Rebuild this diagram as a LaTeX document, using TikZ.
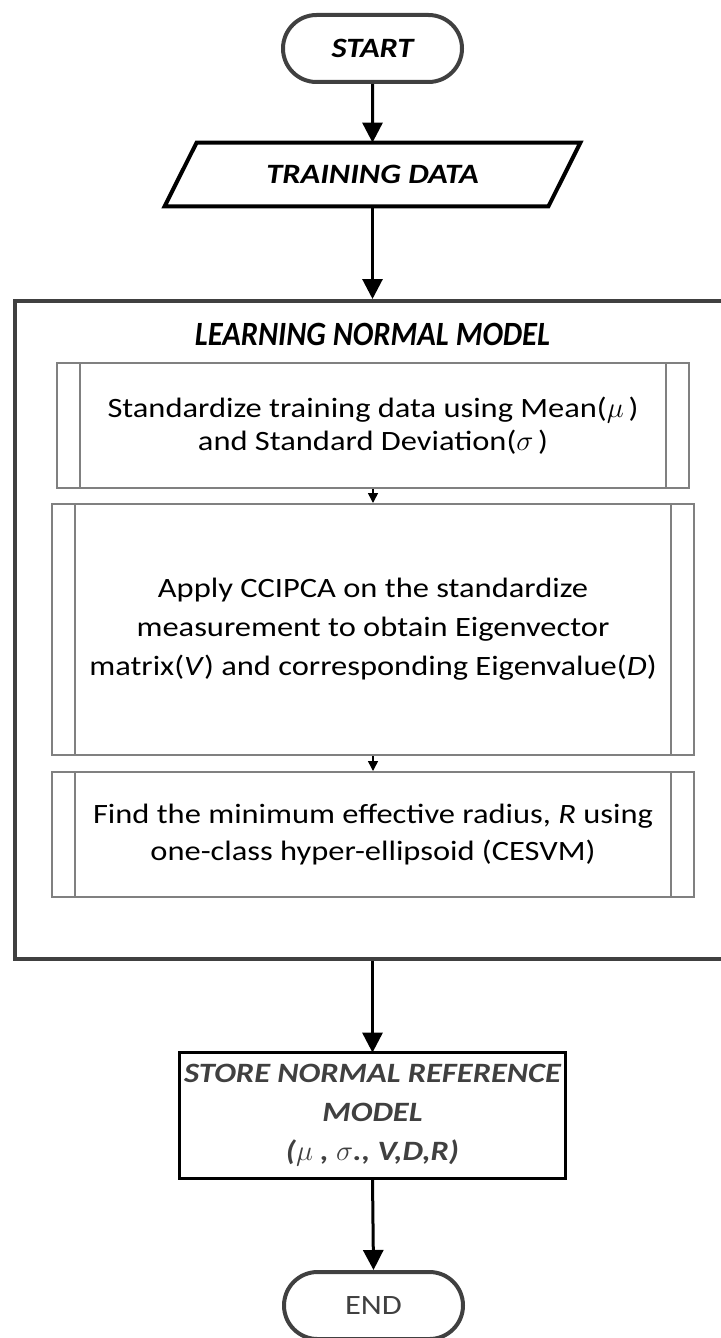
\documentclass[tikz,border=0pt]{standalone}
\usepackage{fontspec}
\setmainfont{Carlito}[FakeStretch=1.16]
\newfontfamily\titlefont{Carlito}[FakeStretch=0.9]
\usetikzlibrary{shapes.misc,arrows.meta}

\definecolor{darkline}{HTML}{404040}
\definecolor{boxline}{HTML}{808080}

\tikzset{
    terminal/.style={rounded rectangle, draw=darkline, line width=2pt, minimum width=89.5pt, minimum height=33.5pt, inner sep=0pt},
    headtext/.style={font=\fontsize{14}{19.5}\selectfont\bfseries\itshape, align=center},
    process/.style={draw=boxline, line width=1pt, inner sep=0pt, align=center},
    flow/.style={line width=1.5pt, -{Triangle[length=10pt,width=10pt]}},
    subflow/.style={line width=0.75pt, -{Triangle[length=5pt,width=5pt]}},
}

\begin{document}
\begin{tikzpicture}[x=0.5pt, y=-0.5pt]
    \useasboundingbox (0,0) rectangle (721,1338);

    % Start and input data
    \node[terminal, headtext] (start) at (372.5,48.5) {START};
    \node[headtext, minimum width=191.5pt, minimum height=31.5pt, inner sep=0pt] (train) at (372.5,174.5) {TRAINING DATA};
    \draw[line width=2pt] ([xshift=8pt]train.north west) -- ([xshift=8pt]train.north east)
        -- ([xshift=-8pt]train.south east) -- ([xshift=-8pt]train.south west) -- cycle;

    % Learning block
    \node[draw=darkline, line width=2pt, minimum width=357.5pt, minimum height=329pt, inner sep=0pt] (learn) at (372.5,630) {};
    \node[font=\titlefont\fontsize{17}{20}\selectfont\bfseries\itshape] (learntitle) at (372.5,334) {LEARNING NORMAL MODEL};

    \node[process, minimum width=316pt, minimum height=62.5pt, font=\fontsize{14}{16.5}\selectfont] (std) at (373,425.5)
        {Standardize training data using Mean($\mu$\,)\\and Standard Deviation($\sigma$\,)};
    \node[process, minimum width=321pt, minimum height=125.5pt, font=\fontsize{14}{19.5}\selectfont] (pca) at (373,629.5)
        {Apply CCIPCA on the standardize\\measurement to obtain Eigenvector\\matrix(\textit{V}) and corresponding Eigenvalue(\textit{D})};
    \node[process, minimum width=321pt, minimum height=62.5pt, font=\fontsize{14}{18.5}\selectfont] (rad) at (373,834.5)
        {Find the minimum effective radius, \textit{R} using\\one-class hyper-ellipsoid (CESVM)};

    % Inner bars of the process boxes
    \foreach \n in {std,pca,rad} {
        \draw[boxline, line width=1pt] ([xshift=12pt]\n.north west) -- ([xshift=12pt]\n.south west);
        \draw[boxline, line width=1pt] ([xshift=-12pt]\n.north east) -- ([xshift=-12pt]\n.south east);
    }

    % Stored model and end
    \node[headtext, text=darkline, minimum width=192.5pt, minimum height=62.5pt, inner sep=0pt] (store) at (372.5,1115.5)
        {STORE NORMAL REFERENCE\\MODEL\\($\mu$ , $\sigma$., V,D,R)};
    \draw[line width=1.5pt] (store.north west) rectangle (store.south east);
    \node[terminal, text=darkline, font=\fontsize{14}{17}\selectfont] (end) at (373.5,1305.5) {END};

    % Connectors
    \draw[flow] (start) -- (train.north);
    \draw[flow] (train.south) -- (learn.north);
    \draw[subflow] (std) -- (pca);
    \draw[subflow] (pca) -- (rad);
    \draw[flow] (learn.south) -- (store.north);
    \draw[flow] (store.south) -- (end.north);
\end{tikzpicture}
\end{document}
